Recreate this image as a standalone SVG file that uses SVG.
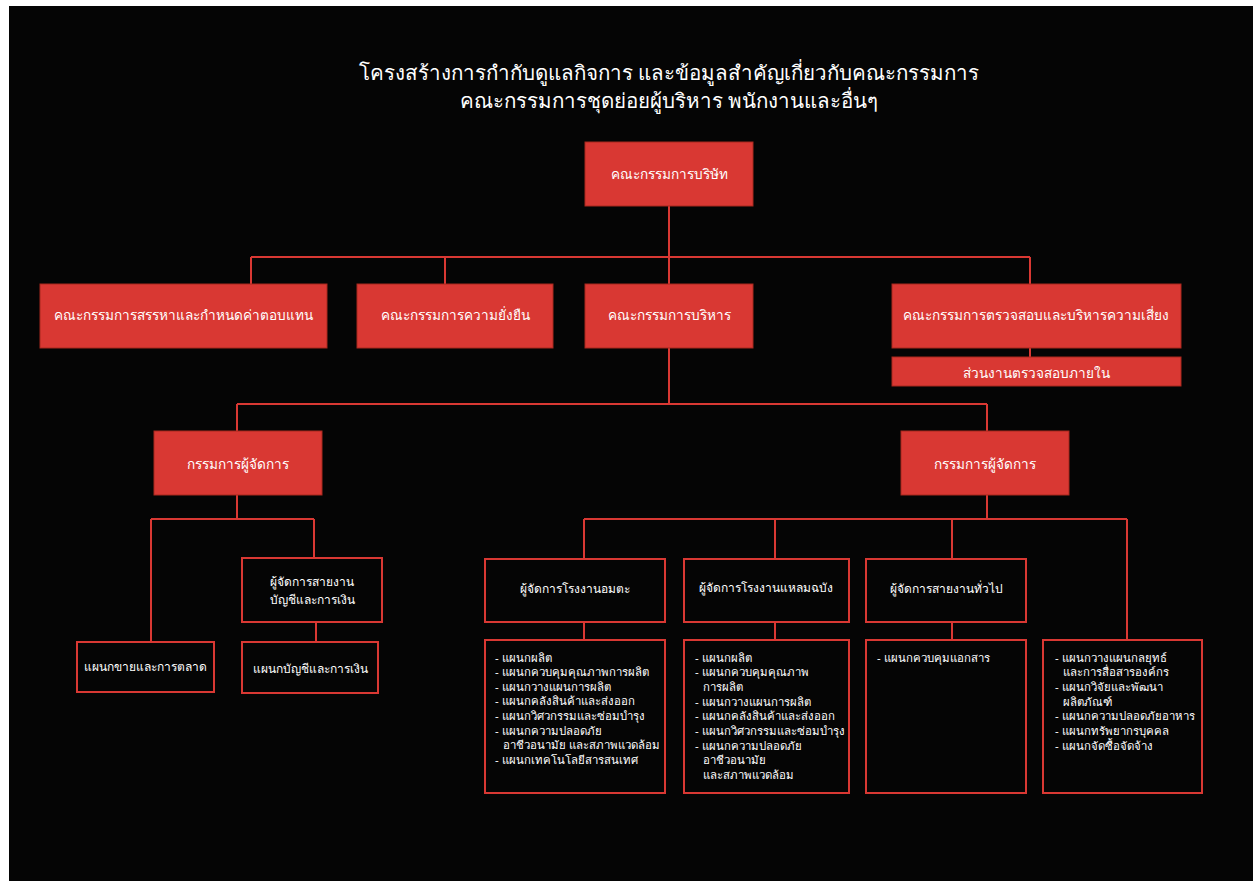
<svg xmlns="http://www.w3.org/2000/svg" width="1253" height="881" viewBox="0 0 1253 881">
<style>
text{font-family:"Noto Sans","DejaVu Sans",sans-serif;fill:#fff}
.title{font-size:20.5px;text-anchor:middle}
.rb{fill:#d93833;stroke:#a8281f;stroke-width:1}
.bb{fill:#050505;stroke:#d93833;stroke-width:2}
.lbl{font-size:13.6px;text-anchor:middle;dominant-baseline:central}
.sm{font-size:12px;text-anchor:middle;dominant-baseline:central}
.li{font-size:11.4px;dominant-baseline:central}
.c{fill:none;stroke:#d93833;stroke-width:2}
</style>
<rect x="0" y="0" width="1253" height="881" fill="#fff"/>
<rect x="9" y="6" width="1244" height="875" fill="#050505"/>
<g id="title">
<text class="title" x="669" y="80">โครงสร้างการกำกับดูแลกิจการ และข้อมูลสำคัญเกี่ยวกับคณะกรรมการ</text>
<text class="title" x="669" y="108">คณะกรรมการชุดย่อยผู้บริหาร พนักงานและอื่นๆ</text>
</g>
<g id="connectors">
<path class="c" d="M669 206V404M251 257H1030M251 257V284M445 257V284M1030 257V284M1030 348V357"/>
<path class="c" d="M237 404H987M237 404V431M987 404V431"/>
<path class="c" d="M237 495V519M151 519H314M151 519V642M314 519V558M316 622V642"/>
<path class="c" d="M987 495V519M584 519H1127M584 519V559M775 519V559M952 519V559M1127 519V640M584 622V640M775 622V640M952 622V640"/>
</g>
<g id="board"><rect class="rb" x="585" y="142" width="168" height="64"/><text class="lbl" x="669" y="173">คณะกรรมการบริษัท</text></g>
<g id="nomination"><rect class="rb" x="40" y="284" width="287" height="64"/><text class="lbl" x="183.5" y="314">คณะกรรมการสรรหาและกำหนดค่าตอบแทน</text></g>
<g id="sustain"><rect class="rb" x="357" y="284" width="196" height="64"/><text class="lbl" x="455" y="314">คณะกรรมการความยั่งยืน</text></g>
<g id="exec"><rect class="rb" x="585" y="284" width="168" height="64"/><text class="lbl" x="669" y="314">คณะกรรมการบริหาร</text></g>
<g id="audit"><rect class="rb" x="892" y="284" width="289" height="64"/><text class="lbl" x="1036" y="314">คณะกรรมการตรวจสอบและบริหารความเสี่ยง</text></g>
<g id="internal-audit"><rect class="rb" x="892" y="357" width="289" height="29"/><text class="lbl" x="1036" y="372">ส่วนงานตรวจสอบภายใน</text></g>
<g id="md-left"><rect class="rb" x="154" y="431" width="168" height="64"/><text class="lbl" x="238" y="463">กรรมการผู้จัดการ</text></g>
<g id="md-right"><rect class="rb" x="901" y="431" width="168" height="64"/><text class="lbl" x="985" y="463">กรรมการผู้จัดการ</text></g>
<g id="sales"><rect class="bb" x="77" y="642" width="137" height="50"/><text class="sm" x="145.5" y="666">แผนกขายและการตลาด</text></g>
<g id="acc-mgr"><rect class="bb" x="242" y="558" width="140" height="64"/><text class="sm" x="312" y="581">ผู้จัดการสายงาน</text><text class="sm" x="312" y="599">บัญชีและการเงิน</text></g>
<g id="acc-dept"><rect class="bb" x="242" y="642" width="136" height="51"/><text class="sm" x="310" y="668">แผนกบัญชีและการเงิน</text></g>
<g id="amata-mgr"><rect class="bb" x="485" y="559" width="180" height="63"/><text class="sm" x="575" y="588">ผู้จัดการโรงงานอมตะ</text></g>
<g id="laem-mgr"><rect class="bb" x="684" y="559" width="165" height="63"/><text class="sm" x="766" y="587">ผู้จัดการโรงงานแหลมฉบัง</text></g>
<g id="general-mgr"><rect class="bb" x="866" y="559" width="160" height="63"/><text class="sm" x="946" y="588">ผู้จัดการสายงานทั่วไป</text></g>
<g id="amata-depts"><rect class="bb" x="485" y="640" width="180" height="153"/>
<text class="li" x="495" y="657">- แผนกผลิต</text>
<text class="li" x="495" y="671.6">- แผนกควบคุมคุณภาพการผลิต</text>
<text class="li" x="495" y="686.2">- แผนกวางแผนการผลิต</text>
<text class="li" x="495" y="700.8">- แผนกคลังสินค้าและส่งออก</text>
<text class="li" x="495" y="715.4">- แผนกวิศวกรรมและซ่อมบำรุง</text>
<text class="li" x="495" y="730">- แผนกความปลอดภัย</text>
<text class="li" x="503" y="744.6">อาชีวอนามัย และสภาพแวดล้อม</text>
<text class="li" x="495" y="759.2">- แผนกเทคโนโลยีสารสนเทศ</text>
</g>
<g id="laem-depts"><rect class="bb" x="684" y="640" width="165" height="153"/>
<text class="li" x="695" y="657">- แผนกผลิต</text>
<text class="li" x="695" y="671.7">- แผนกควบคุมคุณภาพ</text>
<text class="li" x="703" y="686.4">การผลิต</text>
<text class="li" x="695" y="701.1">- แผนกวางแผนการผลิต</text>
<text class="li" x="695" y="715.8">- แผนกคลังสินค้าและส่งออก</text>
<text class="li" x="695" y="730.5">- แผนกวิศวกรรมและซ่อมบำรุง</text>
<text class="li" x="695" y="745.2">- แผนกความปลอดภัย</text>
<text class="li" x="703" y="759.9">อาชีวอนามัย</text>
<text class="li" x="703" y="774.6">และสภาพแวดล้อม</text>
</g>
<g id="general-depts"><rect class="bb" x="866" y="640" width="160" height="153"/>
<text class="li" x="877" y="657">- แผนกควบคุมแอกสาร</text>
</g>
<g id="other-depts"><rect class="bb" x="1043" y="640" width="159" height="153"/>
<text class="li" x="1055" y="657">- แผนกวางแผนกลยุทธ์</text>
<text class="li" x="1063" y="671.7">และการสื่อสารองค์กร</text>
<text class="li" x="1055" y="686.4">- แผนกวิจัยและพัฒนา</text>
<text class="li" x="1063" y="701.1">ผลิตภัณฑ์</text>
<text class="li" x="1055" y="715.8">- แผนกความปลอดภัยอาหาร</text>
<text class="li" x="1055" y="730.5">- แผนกทรัพยากรบุคคล</text>
<text class="li" x="1055" y="745.2">- แผนกจัดซื้อจัดจ้าง</text>
</g>
</svg>
